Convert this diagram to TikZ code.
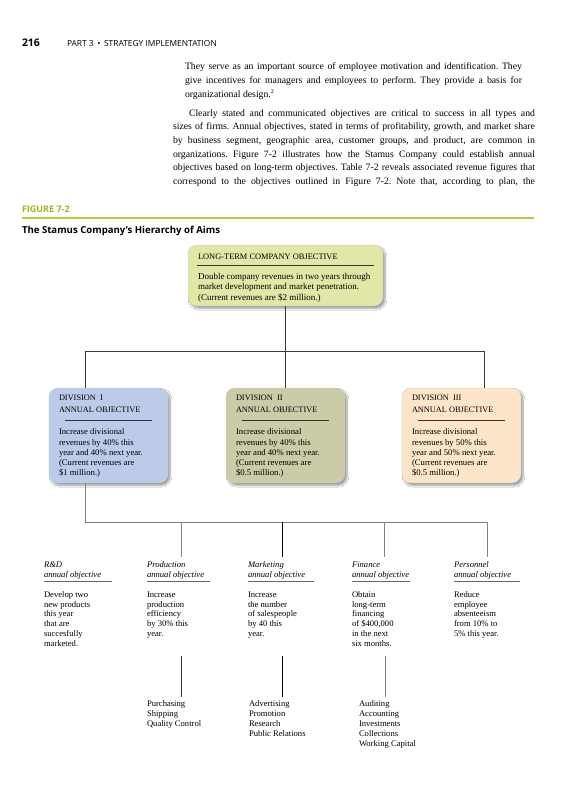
\documentclass[tikz,border=0pt]{standalone}
\usepackage{fontspec}
\setmainfont{Liberation Serif}
\newfontfamily\hsans{Open Sans}
\usetikzlibrary{shadows.blur}
\definecolor{ltfill}{HTML}{E2E6A6}
\definecolor{donefill}{HTML}{BDCBEA}
\definecolor{dtwofill}{HTML}{CBCBA8}
\definecolor{dthreefill}{HTML}{FDE5C9}
\definecolor{figgreen}{HTML}{9DB51F}
\definecolor{rulegreen}{HTML}{BCC63A}
\definecolor{linedark}{HTML}{3A3A3A}
\definecolor{linegray}{HTML}{808080}
\begin{document}
\frenchspacing
\begin{tikzpicture}[x=1pt,y=-1pt,
  every node/.style={inner sep=0pt, outer sep=0pt},
  bodytxt/.style={anchor=base west, font=\fontsize{9.75}{12}\selectfont},
  headbig/.style={anchor=base west, font=\hsans\bfseries\fontsize{10.5}{12}\selectfont},
  headsmall/.style={anchor=base west, font=\hsans\fontsize{8.4}{10}\selectfont},
  figlabel/.style={anchor=base west, font=\hsans\bfseries\fontsize{9}{11}\selectfont, text=figgreen},
  figtitle/.style={anchor=base west, font=\hsans\bfseries\fontsize{9.6}{11}\selectfont},
  aimbox/.style={draw=black!22, line width=0.4pt, rounded corners=9pt, anchor=north west,
    blur shadow={shadow xshift=2pt, shadow yshift=-2.4pt, shadow blur steps=7, shadow opacity=40}},
  capstxt/.style={anchor=base west, font=\fontsize{8.3}{10}\selectfont},
  ltcaps/.style={anchor=base west, font=\fontsize{8.4}{10}\selectfont},
  lttxt/.style={anchor=base west, font=\fontsize{9}{11}\selectfont},
  divtxt/.style={anchor=base west, font=\fontsize{8.7}{10}\selectfont},
  fntitle/.style={anchor=base west, font=\itshape\fontsize{8.6}{10}\selectfont},
  fntxt/.style={anchor=base west, font=\fontsize{8.6}{10}\selectfont},
  boxrule/.style={line width=0.6pt, draw=black!80},
  fnrule/.style={line width=0.6pt, draw=black!60},
  connd/.style={line width=0.8pt, draw=linedark},
  conng/.style={line width=1pt, draw=linegray},
  connb/.style={line width=0.8pt, draw=black}
]
\useasboundingbox (0,0) rectangle (576,800);
\fill[white] (0,0) rectangle (576,800);

% ---- page header
\node[headbig] (pgnum) at (22,47) {216};
\node[headsmall] (part) at (67,46.6) {PART 3 \,\textbullet\, STRATEGY IMPLEMENTATION};

% ---- running text
\node[bodytxt] (pa1) at (185,70) {\makebox[337pt][s]{They serve as an important source of employee motivation and identification. They}};
\node[bodytxt] (pa2) at (185,83.5) {\makebox[337pt][s]{give incentives for managers and employees to perform. They provide a basis for}};
\node[bodytxt] (pa3) at (185,97) {organizational design.\textsuperscript{\fontsize{6}{7}\selectfont 2}};
\node[bodytxt] (pb1) at (189,116) {\makebox[346pt][s]{Clearly stated and communicated objectives are critical to success in all types and}};
\node[bodytxt] (pb2) at (173,129.7) {\makebox[362pt][s]{sizes of firms. Annual objectives, stated in terms of profitability, growth, and market share}};
\node[bodytxt] (pb3) at (173,143.4) {\makebox[362pt][s]{by business segment, geographic area, customer groups, and product, are common in}};
\node[bodytxt] (pb4) at (173,157.1) {\makebox[362pt][s]{organizations. Figure 7-2 illustrates how the Stamus Company could establish annual}};
\node[bodytxt] (pb5) at (173,170.8) {\makebox[362pt][s]{objectives based on long-term objectives. Table 7-2 reveals associated revenue figures that}};
\node[bodytxt] (pb6) at (173,184.5) {\makebox[362pt][s]{correspond to the objectives outlined in Figure 7-2. Note that, according to plan, the}};

% ---- figure label
\node[figlabel] (figlab) at (22,212.5) {FIGURE 7-2};
\coordinate (ruleL) at (22,218);
\coordinate (ruleR) at (534,218);
\draw[rulegreen, line width=2pt] (ruleL) -- (ruleR);
\node[figtitle] (figttl) at (22,233.5) {The Stamus Company’s Hierarchy of Aims};

% ---- long-term objective box
\node[aimbox, fill=ltfill, minimum width=195pt, minimum height=61pt] (lt) at (188,245) {};
\node[ltcaps] (lttitle) at (198,259) {LONG-TERM COMPANY OBJECTIVE};
\coordinate (ltrA) at (197,265);
\coordinate (ltrB) at (374,265);
\draw[boxrule] (ltrA) -- (ltrB);
\node[lttxt] (ltb1) at (198,279) {Double company revenues in two years through};
\node[lttxt] (ltb2) at (198,289.8) {market development and market penetration.};
\node[lttxt] (ltb3) at (198,300.6) {(Current revenues are \$2 million.)};

% ---- division boxes
\node[aimbox, fill=donefill, minimum width=119pt, minimum height=95pt] (d1) at (49,388) {};
\node[aimbox, fill=dtwofill, minimum width=119pt, minimum height=95pt] (d2) at (226,388) {};
\node[aimbox, fill=dthreefill, minimum width=119pt, minimum height=95pt] (d3) at (402,388) {};

\node[capstxt] (d1t1) at (59,400.8) {DIVISION\ \ I};
\node[capstxt] (d1t2) at (59,412.8) {ANNUAL OBJECTIVE};
\node[capstxt] (d2t1) at (236,400.8) {DIVISION\ \ II};
\node[capstxt] (d2t2) at (236,412.8) {ANNUAL OBJECTIVE};
\node[capstxt] (d3t1) at (412,400.8) {DIVISION\ \ III};
\node[capstxt] (d3t2) at (412,412.8) {ANNUAL OBJECTIVE};
\coordinate (d1rA) at (65,420); \coordinate (d1rB) at (152,420);
\coordinate (d2rA) at (242,420); \coordinate (d2rB) at (329,420);
\coordinate (d3rA) at (418,420); \coordinate (d3rB) at (505,420);
\draw[boxrule] (d1rA) -- (d1rB);
\draw[boxrule] (d2rA) -- (d2rB);
\draw[boxrule] (d3rA) -- (d3rB);

\foreach \lbl [count=\i] in {{Increase divisional}, {revenues by 40\% this}, {year and 40\% next year.}, {(Current revenues are}, {\$1 million.)}}
  \node[divtxt] (d1b\i) at (59,{434.8+(\i-1)*10.2}) {\lbl};
\foreach \lbl [count=\i] in {{Increase divisional}, {revenues by 40\% this}, {year and 40\% next year.}, {(Current revenues are}, {\$0.5 million.)}}
  \node[divtxt] (d2b\i) at (236,{434.8+(\i-1)*10.2}) {\lbl};
\foreach \lbl [count=\i] in {{Increase divisional}, {revenues by 50\% this}, {year and 50\% next year.}, {(Current revenues are}, {\$0.5 million.)}}
  \node[divtxt] (d3b\i) at (412,{434.8+(\i-1)*10.2}) {\lbl};

% ---- connectors: company to divisions
\coordinate (barL) at (85,351);
\coordinate (barR) at (484,351);
\draw[connd] (lt.south) -- (lt.south |- barL);
\draw[connd] (barL) -- (barR);
\draw[connd] (barL) -- (barL |- d1.north);
\draw[connd] (lt.south |- barL) -- (d2.north);
\draw[connd] (barR) -- (barR |- d3.north);

% ---- functional objectives
\node[fntitle] (f1t) at (44,567.5) {R\&D};
\node[fntitle] (f1a) at (44,577.5) {annual objective};
\node[fntitle] (f2t) at (147,567.5) {Production};
\node[fntitle] (f2a) at (147,577.5) {annual objective};
\node[fntitle] (f3t) at (248,567.5) {Marketing};
\node[fntitle] (f3a) at (248,577.5) {annual objective};
\node[fntitle] (f4t) at (352,567.5) {Finance};
\node[fntitle] (f4a) at (352,577.5) {annual objective};
\node[fntitle] (f5t) at (454,567.5) {Personnel};
\node[fntitle] (f5a) at (454,577.5) {annual objective};
\coordinate (f1rA) at (44,581.5);  \coordinate (f1rB) at (112,581.5);
\coordinate (f2rA) at (147,581.5); \coordinate (f2rB) at (210,581.5);
\coordinate (f3rA) at (248,581.5); \coordinate (f3rB) at (314,581.5);
\coordinate (f4rA) at (352,581.5); \coordinate (f4rB) at (410,581.5);
\coordinate (f5rA) at (454,581.5); \coordinate (f5rB) at (520,581.5);
\foreach \k in {1,...,5} \draw[fnrule] (f\k rA) -- (f\k rB);

\foreach \lbl [count=\i] in {Develop two, new products, this year, that are, succesfully, marketed.}
  \node[fntxt] (f1b\i) at (44,{597.5+(\i-1)*9.7}) {\lbl};
\foreach \lbl [count=\i] in {Increase, production, efficiency, by 30\% this, year.}
  \node[fntxt] (f2b\i) at (147,{597.5+(\i-1)*9.7}) {\lbl};
\foreach \lbl [count=\i] in {Increase, the number, of salespeople, by 40 this, year.}
  \node[fntxt] (f3b\i) at (248,{597.5+(\i-1)*9.7}) {\lbl};
\foreach \lbl [count=\i] in {Obtain, long-term, financing, {of \$400,000}, in the next, six months.}
  \node[fntxt] (f4b\i) at (352,{597.5+(\i-1)*9.7}) {\lbl};
\foreach \lbl [count=\i] in {Reduce, employee, absenteeism, from 10\% to, 5\% this year.}
  \node[fntxt] (f5b\i) at (454,{597.5+(\i-1)*9.7}) {\lbl};

% ---- connectors: division I to functions
\coordinate (fbarL) at (85,522);
\coordinate (fbarR) at (487,522);
\coordinate (fv2) at (181,557);
\coordinate (fv3) at (282,557);
\coordinate (fv4) at (384,557);
\coordinate (fv5) at (487,557);
\draw[conng] (fbarL |- d1.south) -- (fbarL) -- (fbarR);
\draw[conng] (fv2 |- fbarL) -- (fv2);
\draw[connb] (fv3 |- fbarL) -- (fv3);
\draw[conng] (fv4 |- fbarL) -- (fv4);
\draw[conng] (fv5 |- fbarL) -- (fv5);

% ---- sub-functions
\coordinate (lv2t) at (181,656); \coordinate (lv2b) at (181,697);
\coordinate (lv3t) at (282,656); \coordinate (lv3b) at (282,697);
\coordinate (lv4t) at (385,656); \coordinate (lv4b) at (385,697);
\draw[connd] (lv2t) -- (lv2b);
\draw[connb] (lv3t) -- (lv3b);
\draw[conng] (lv4t) -- (lv4b);

\foreach \lbl [count=\i] in {Purchasing, Shipping, Quality Control}
  \node[fntxt] (s2\i) at (147,{706.5+(\i-1)*10}) {\lbl};
\foreach \lbl [count=\i] in {Advertising, Promotion, Research, Public Relations}
  \node[fntxt] (s3\i) at (249,{706.5+(\i-1)*10}) {\lbl};
\foreach \lbl [count=\i] in {Auditing, Accounting, Investments, Collections, Working Capital}
  \node[fntxt] (s4\i) at (359,{706.5+(\i-1)*10}) {\lbl};
\end{tikzpicture}
\end{document}
